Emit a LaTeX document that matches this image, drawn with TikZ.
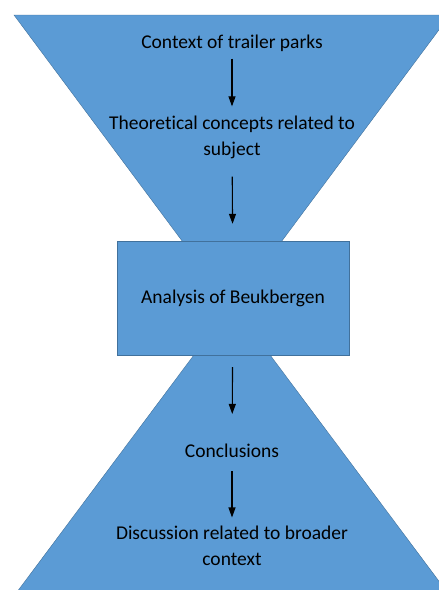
\documentclass[tikz,border=0pt]{standalone}
\usepackage{fontspec}
\setmainfont{Carlito}[Ligatures=NoCommon]
\usetikzlibrary{arrows.meta,positioning}
\definecolor{funnelblue}{HTML}{5B9BD5}
\definecolor{funneledge}{HTML}{41719C}

\begin{document}
\begin{tikzpicture}[x=1pt, y=-1pt, auto, swap,
	txt/.style={font=\fontsize{19.5}{26}\selectfont, align=center, inner sep=0pt},
	flow/.style={-{Triangle[width=7pt,length=10pt]}, line width=1.1pt}]
	\useasboundingbox (0,0) rectangle (439,590);
	\begin{scope}
		\clip (0,0) rectangle (439,590);
		\draw[funneledge, fill=funnelblue] (14,15) -- (450,15) -- (232,308) -- cycle;
		\draw[funneledge, fill=funnelblue] (232,304) -- (450,596) -- (14,596) -- cycle;
	\end{scope}
	\node[txt, draw=funneledge, fill=funnelblue, minimum width=232pt, minimum height=114pt] (analysis) at (233,298) {Analysis of Beukbergen};

	\node[txt] (context) at (232,43) {Context of trailer parks};
	\node[txt] (theory) at (232,137) {Theoretical concepts related to\\subject};
	\node[txt] (concl) at (232,451) {Conclusions};
	\node[txt] (discuss) at (232,545.5) {Discussion related to broader\\context};

	\foreach \a/\b/\s/\e in {context/theory/7/9, theory/analysis/18/17, analysis/concl/12/30, concl/discuss/13/8}
		\draw[flow, shorten <=\s pt, shorten >=\e pt] (\a) -- (\b);
\end{tikzpicture}
\end{document}
